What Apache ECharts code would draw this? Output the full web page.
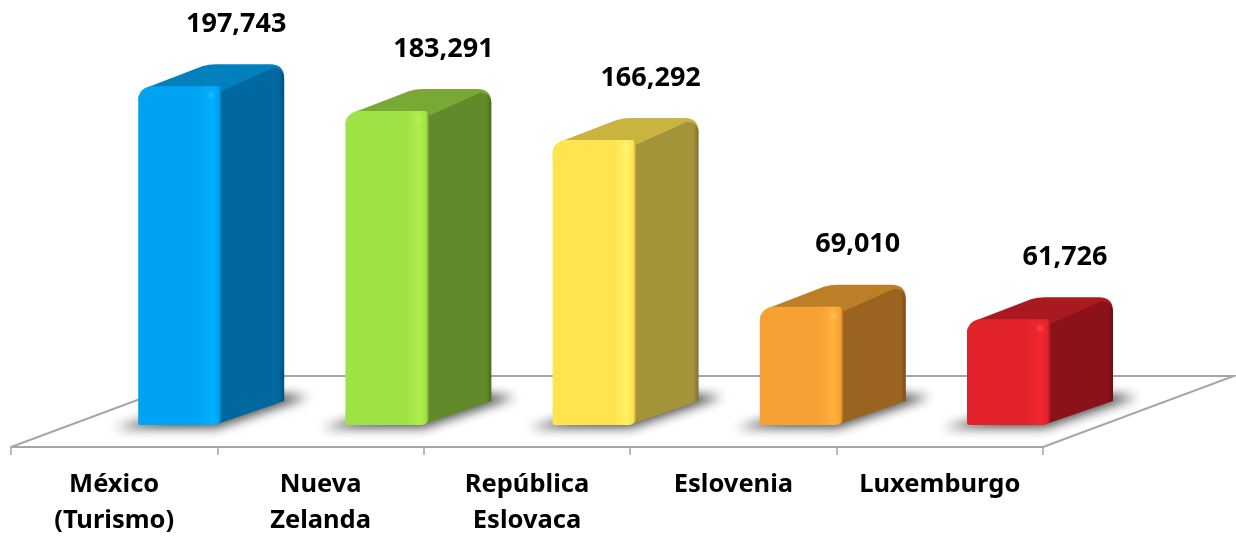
<!DOCTYPE html>
<html>
<head>
<meta charset="utf-8">
<style>
  html, body { margin: 0; padding: 0; background: #ffffff; }
  #chart { width: 1236px; height: 536px; }
</style>
<script src="https://cdn.jsdelivr.net/npm/echarts@6/dist/echarts.min.js"></script>
</head>
<body>
<div id="chart"></div>
<script>
// Chart data
const categories = ['México\n(Turismo)', 'Nueva\nZelanda', 'República\nEslovaca', 'Eslovenia', 'Luxemburgo'];
const values = [197743, 183291, 166292, 69010, 61726];

// Bar face colours
const frontColors = ['#00a3f2', '#9fe246', '#ffe34f', '#f6a134', '#e2222b'];
const frontLight = ['#00b0ff', '#aeee4c', '#fff064', '#ffb13c', '#f2262f'];
const sideColors = ['#00689e', '#638a2a', '#a39339', '#9a6420', '#8b1218'];
const sideDark = ['#004f78', '#4c6b20', '#80732c', '#7a4f19', '#6d0d12'];
const topColors = ['#0080bd', '#7aa835', '#c9b43f', '#bc7e26', '#a81a20'];
const spotColors = ['#30bcff', '#bdf062', '#fff38a', '#ffc45e', '#ff4a50'];

// Fake 3D geometry
const barShift = 24, barSpread = 0.8, barWidth = 84, depthX = 62, depthY = -22, corner = 14;
const floorDrop = 22, floorX = 191, floorY = -71;
const lineColor = '#a6a6a6';
const shadowShift = 3000;

const renderFloor = (params) => {
  const cs = params.coordSys;
  const y = cs.y + cs.height + floorDrop;
  const left = cs.x, right = cs.x + cs.width;
  return {
    type: 'polyline',
    shape: { points: [[left, y], [left + floorX, y + floorY], [right + floorX, y + floorY], [right, y]] },
    style: { stroke: lineColor, lineWidth: 2, fill: null }
  };
};

const renderBar = (params, api) => {
  const i = params.dataIndex;
  const p = api.coord([api.value(0), api.value(1)]);
  const base = api.coord([api.value(0), 0])[1];
  const x0 = p[0] + barShift + i * barSpread, x1 = x0 + barWidth, yt = p[1];
  const backR = x1 + depthX, backT = yt + depthY, backB = base + depthY - 2;

  const topPath = `M${x0},${yt + corner} Q${x0},${yt + 4} ${x0 + 12},${yt}` +
    `L${x0 + 64},${backT + 2} Q${x0 + 70},${backT} ${x0 + 78},${backT}` +
    `L${backR - corner},${backT} Q${backR},${backT} ${backR},${backT + corner}` +
    `L${x1},${yt + 14} L${x1 - 6},${yt + 6} Z`;
  const sidePath = `M${x1 - 4},${yt + 8} Q${x1},${yt + 4} ${x1 + 8},${yt + 1}` +
    `L${backR - 12},${backT + 4} Q${backR - 1},${backT + 3} ${backR},${backT + corner}` +
    `L${backR},${backB} L${x1 - 2},${base - 2} Q${x1 - 8},${base} ${x1 - 14},${base} Z`;

  // blur only: the shape itself sits off canvas, its shadow falls on the floor
  const shadowPoints = [[x0 - 24, base + 3], [x1 - 6, base + 3], [backR + 24, backB - 4], [backR - 30, backB - 10]];

  return {
    type: 'group',
    children: [
      {
        type: 'polygon',
        shape: { points: shadowPoints.map(([x, y]) => [x - shadowShift, y]) },
        style: { fill: '#000000', shadowBlur: 11, shadowOffsetX: shadowShift, shadowColor: 'rgba(70,70,70,0.95)' }
      },
      { type: 'path', shape: { pathData: topPath, layout: 'cover' }, style: { fill: topColors[i] } },
      {
        type: 'path',
        shape: { pathData: sidePath, layout: 'cover' },
        style: {
          fill: new echarts.graphic.LinearGradient(0, 0, 1, 0, [
            { offset: 0, color: sideColors[i] },
            { offset: 0.93, color: sideColors[i] },
            { offset: 1, color: sideDark[i] }
          ])
        }
      },
      {
        type: 'rect',
        shape: { x: x0, y: yt, width: barWidth, height: base - yt, r: [corner, 5, 8, 2] },
        style: {
          fill: new echarts.graphic.LinearGradient(0, 0, 1, 0, [
            { offset: 0, color: frontColors[i] },
            { offset: 0.72, color: frontColors[i] },
            { offset: 0.88, color: frontLight[i] },
            { offset: 0.96, color: frontColors[i] },
            { offset: 1, color: sideColors[i] }
          ])
        }
      },
      {
        // small highlight on the front corner
        type: 'circle',
        shape: { cx: x1 - 11, cy: yt + 9, r: 6 },
        style: {
          fill: new echarts.graphic.RadialGradient(0.5, 0.5, 0.5, [
            { offset: 0, color: spotColors[i] },
            { offset: 1, color: frontLight[i] + '00' }
          ])
        }
      },
      {
        type: 'text',
        style: {
          x: x0 + 98,
          y: yt - 62,
          text: api.value(1).toLocaleString('en-US'),
          fill: '#000000',
          font: 'bold 27px "Noto Sans"',
          align: 'center',
          verticalAlign: 'middle'
        }
      }
    ]
  };
};

const chart = echarts.init(document.getElementById('chart'));
chart.setOption({
  animation: false,
  backgroundColor: '#ffffff',
  grid: { left: 11, top: 0, width: 1032, height: 425, outerBoundsMode: 'none' },
  xAxis: {
    type: 'category',
    data: categories,
    offset: floorDrop,
    axisLine: { onZero: false, lineStyle: { color: lineColor, width: 2 } },
    axisTick: { show: true, length: 8, lineStyle: { color: lineColor, width: 1.5 } },
    axisLabel: { color: '#000000', fontFamily: 'Noto Sans', fontWeight: 'bold', fontSize: 25.5, lineHeight: 36, margin: 20, interval: 0 }
  },
  yAxis: { type: 'value', min: 0, max: 248000, show: false },
  series: [
    { type: 'custom', name: 'floor', data: [[0, 0]], renderItem: renderFloor, silent: true, z: 1 },
    { type: 'custom', name: 'bars', data: values.map((v, i) => [i, v]), renderItem: renderBar, encode: { x: 0, y: 1 }, z: 2 }
  ]
});
</script>
</body>
</html>
